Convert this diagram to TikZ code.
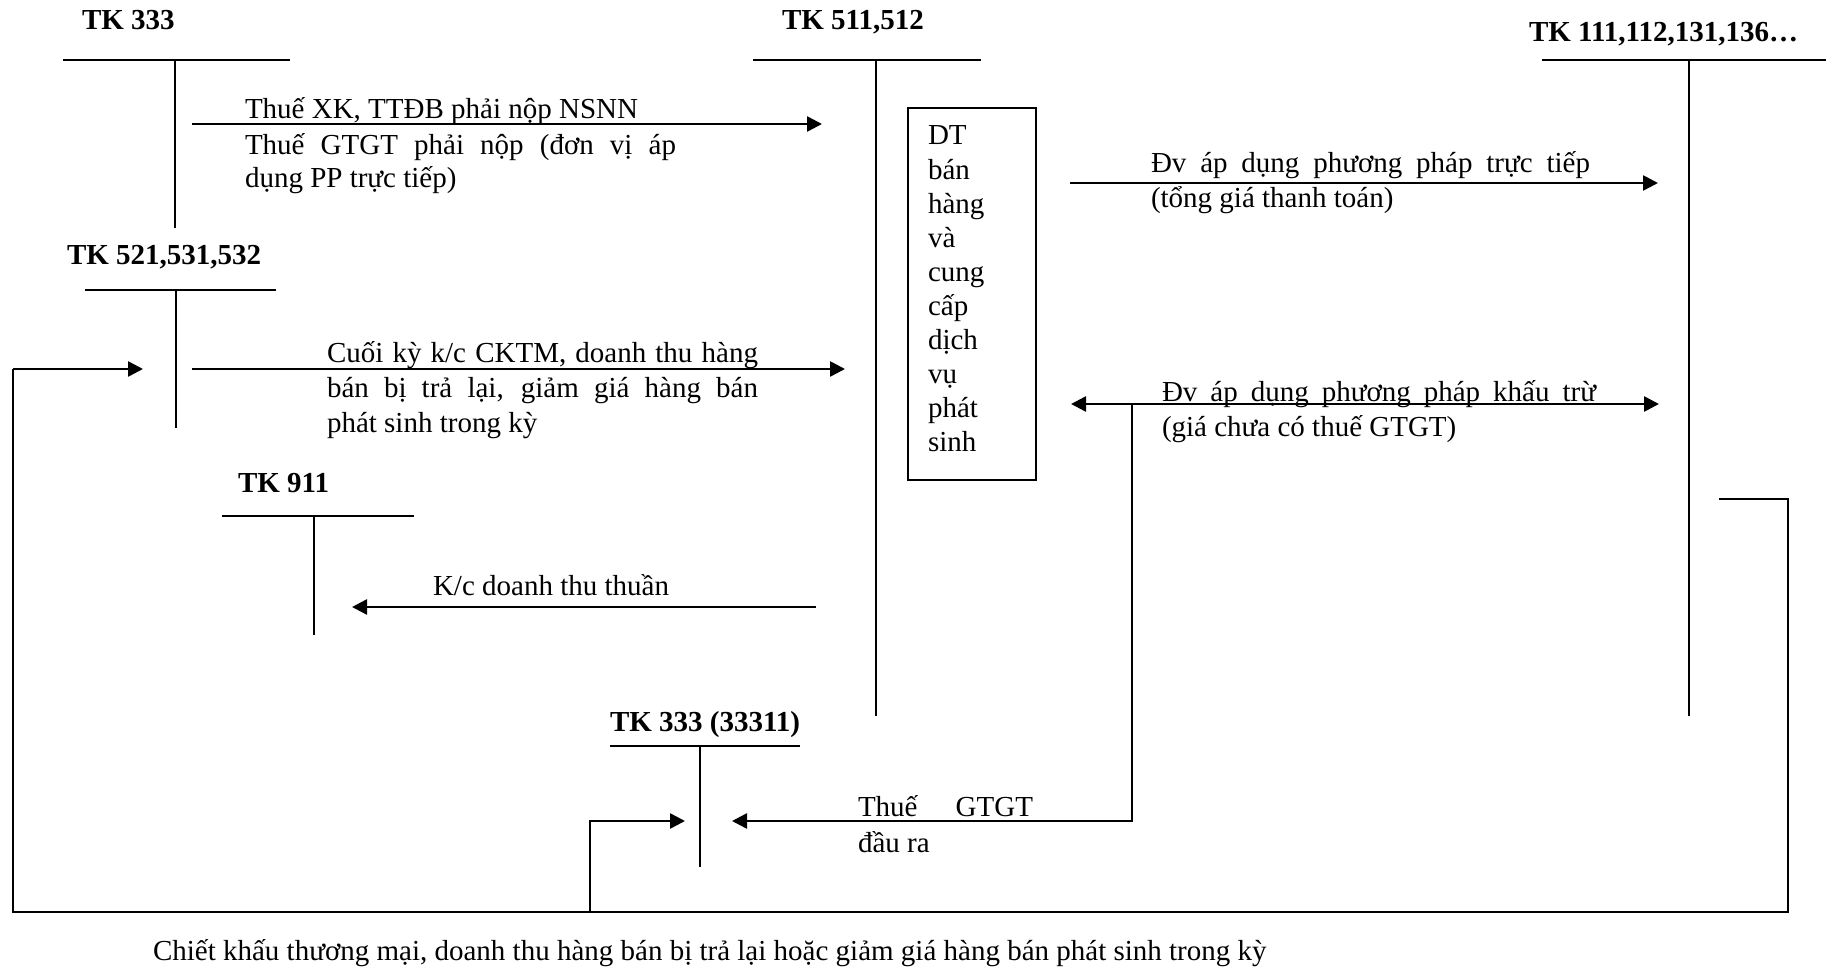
\documentclass[tikz,border=0pt]{standalone}
\usepackage{fontspec}
\setmainfont{Liberation Serif}
\usetikzlibrary{arrows.meta}
% one drawing unit = 0.5pt
\newlength\pxu \setlength\pxu{0.5pt}
% a line of text spread to a given width (in drawing units)
\newcommand\jline[2]{\makebox[#1\pxu][s]{#2}}
\begin{document}
\begin{tikzpicture}[x=0.5pt,y=-0.5pt,
  every node/.style={inner sep=0pt,outer sep=0pt,anchor=base west},
  txt/.style={font=\fontsize{14.5}{17}\selectfont},
  tlabel/.style={font=\fontsize{14.5}{17}\selectfont\bfseries},
  acct/.style={line width=1pt},
  flow/.style={line width=1.3pt,-{Triangle[length=7.5pt,width=7.5pt]}},
  twoway/.style={line width=1.3pt,{Triangle[length=7.5pt,width=7.5pt]}-{Triangle[length=7.5pt,width=7.5pt]}},
  loopline/.style={line width=1.1pt,line join=miter}
]
\useasboundingbox (0,0) rectangle (1831,968);

% ---------- T-accounts ----------
\node[tlabel] (l333) at (82,30) {TK 333};
\coordinate (a333w) at (63,60);   \coordinate (a333e) at (290,60);
\coordinate (a333t) at (175,60);  \coordinate (a333b) at (175,228);
\draw[acct] (a333w) -- (a333e) (a333t) -- (a333b);

\node[tlabel] (l511) at (782,30) {TK 511,512};
\coordinate (a511w) at (753,60);  \coordinate (a511e) at (981,60);
\coordinate (a511t) at (876,60);  \coordinate (a511b) at (876,716);
\draw[acct] (a511w) -- (a511e) (a511t) -- (a511b);

\node[tlabel] (l111) at (1529,42) {TK 111,112,131,136…};
\coordinate (a111w) at (1542,60); \coordinate (a111e) at (1826,60);
\coordinate (a111t) at (1689,60); \coordinate (a111b) at (1689,716);
\draw[acct] (a111w) -- (a111e) (a111t) -- (a111b);

\node[tlabel] (l521) at (67,265) {TK 521,531,532};
\coordinate (a521w) at (85,290);  \coordinate (a521e) at (276,290);
\coordinate (a521t) at (176,290); \coordinate (a521b) at (176,428);
\draw[acct] (a521w) -- (a521e) (a521t) -- (a521b);

\node[tlabel] (l911) at (238,492) {TK 911};
\coordinate (a911w) at (222,516); \coordinate (a911e) at (414,516);
\coordinate (a911t) at (314,516); \coordinate (a911b) at (314,635);
\draw[acct] (a911w) -- (a911e) (a911t) -- (a911b);

\node[tlabel] (l3331) at (610,731) {TK 333 (33311)};
\coordinate (a3331w) at (610,746); \coordinate (a3331e) at (800,746);
\coordinate (a3331t) at (700,746); \coordinate (a3331b) at (700,867);
\draw[acct] (a3331w) -- (a3331e) (a3331t) -- (a3331b);

% ---------- revenue box ----------
\node[draw,line width=1pt,anchor=north west,minimum width=64pt,minimum height=186pt] (dtbox) at (908,108) {};
\foreach \w [count=\i from 0] in {DT,bán,hàng,và,cung,cấp,dịch,vụ,phát,sinh}
  \node[txt] (dt\i) at (928,145+34.1*\i) {\w};

% ---------- flows ----------
% TK 333 -> TK 511
\coordinate (f1s) at (192,124); \coordinate (f1e) at (822,124);
\draw[flow] (f1s) -- (f1e);
\node[txt] (t1a) at (245,119) {Thuế XK, TTĐB phải nộp NSNN};
\node[txt] (t1b) at (245,155) {\jline{431}{Thuế GTGT phải nộp (đơn vị áp}};
\node[txt] (t1c) at (245,188) {dụng PP trực tiếp)};

% TK 521 -> TK 511
\coordinate (f2s) at (192,369); \coordinate (f2e) at (845,369);
\draw[flow] (f2s) -- (f2e);
\node[txt] (t2a) at (327,362) {\jline{431}{Cuối kỳ k/c CKTM, doanh thu hàng}};
\node[txt] (t2b) at (327,397) {\jline{431}{bán bị trả lại, giảm giá hàng bán}};
\node[txt] (t2c) at (327,432) {phát sinh trong kỳ};

% TK 511 -> TK 111 (direct method)
\coordinate (f3s) at (1070,183); \coordinate (f3e) at (1658,183);
\draw[flow] (f3s) -- (f3e);
\node[txt] (t3a) at (1151,173) {\jline{439}{Đv áp dụng phương pháp trực tiếp}};
\node[txt] (t3b) at (1151,208) {(tổng giá thanh toán)};

% TK 511 <-> TK 111 (deduction method)
\coordinate (f4s) at (1071,404); \coordinate (f4e) at (1659,404);
\draw[twoway] (f4s) -- (f4e);
\node[txt] (t4a) at (1162,401) {\jline{434}{Đv áp dụng phương pháp khấu trừ}};
\node[txt] (t4b) at (1162,436) {(giá chưa có thuế GTGT)};

% TK 511 -> TK 911
\coordinate (f5s) at (816,607); \coordinate (f5e) at (352,607);
\draw[flow] (f5s) -- (f5e);
\node[txt] (t5) at (433,595) {K/c doanh thu thuần};

% output VAT -> TK 33311
\coordinate (f6s) at (1132,404); \coordinate (f6c) at (1132,821); \coordinate (f6e) at (732,821);
\draw[flow,line join=miter] (f6s) -- (f6c) -- (f6e);
\node[txt] (t6a) at (858,816) {\jline{175}{Thuế GTGT}};
\node[txt] (t6b) at (858,852) {đầu ra};

% discounts and returns loop: TK 111 -> TK 521 and TK 33311
\coordinate (g1) at (1719,499); \coordinate (g2) at (1788,499);
\coordinate (g3) at (1788,912); \coordinate (g4) at (13,912);
\coordinate (g5) at (13,369);   \coordinate (g6) at (143,369);
\draw[loopline] (g1) -- (g2) -- (g3) -- (g4) -- (g5);
\draw[flow] (g5) -- (g6);
\coordinate (h1) at (590,912); \coordinate (h2) at (590,821); \coordinate (h3) at (685,821);
\draw[flow,line join=miter] (h1) -- (h2) -- (h3);
\node[txt] (cap) at (153,960) {Chiết khấu thương mại, doanh thu hàng bán bị trả lại hoặc giảm giá hàng bán phát sinh trong kỳ};
\end{tikzpicture}
\end{document}
